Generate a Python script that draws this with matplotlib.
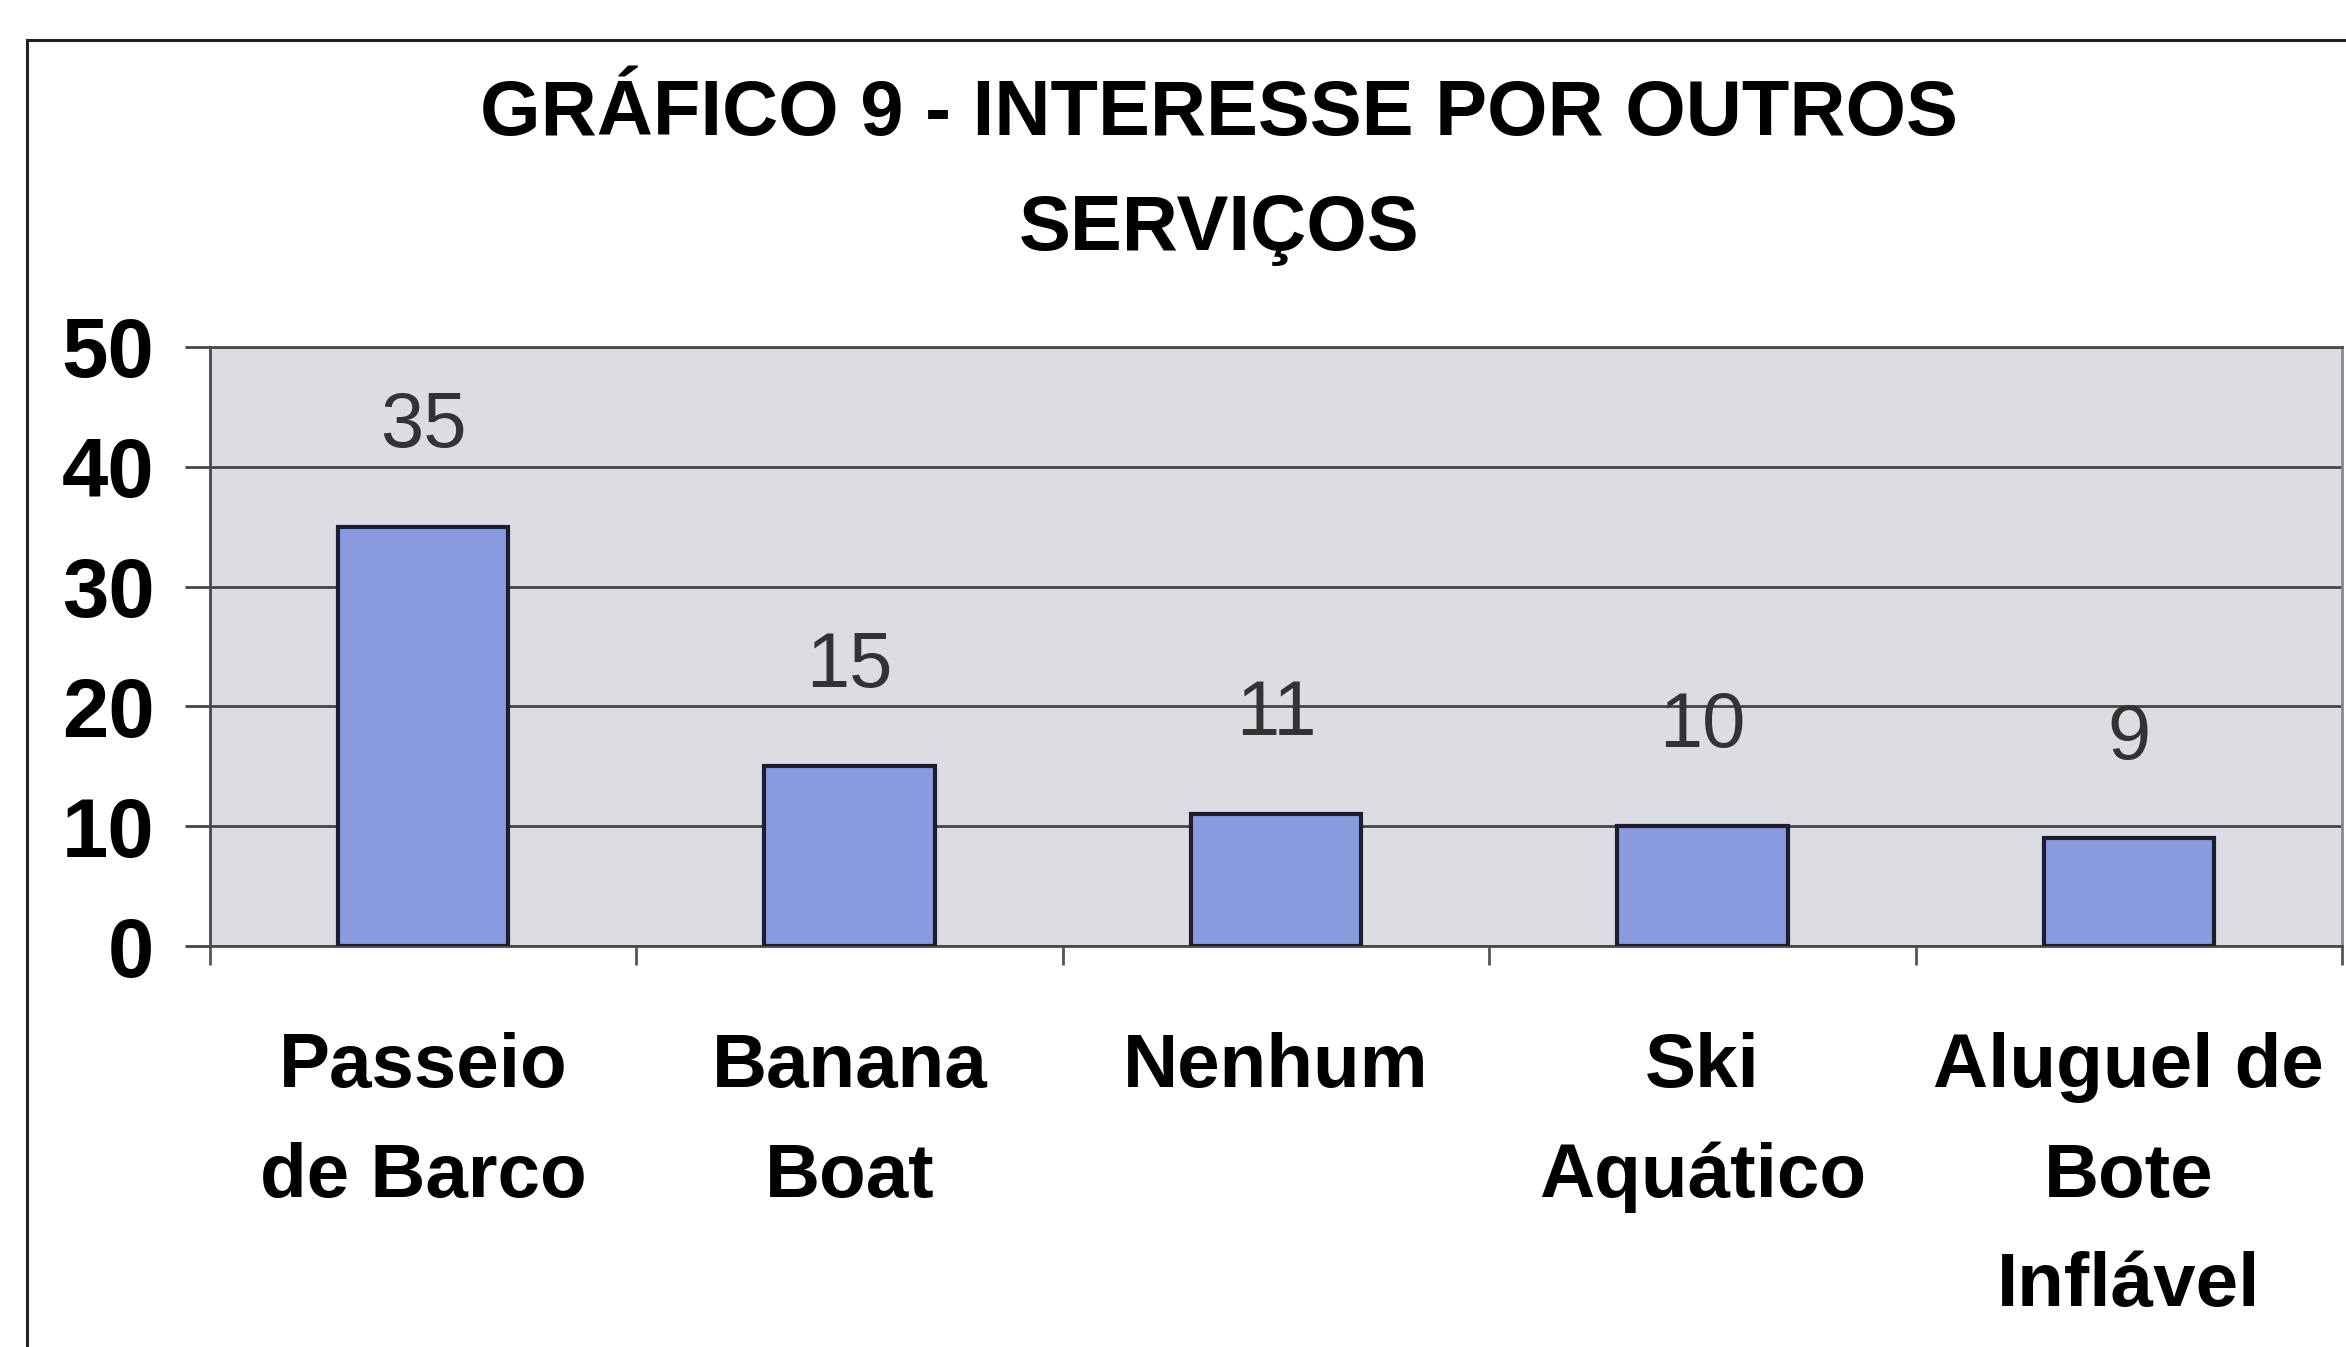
import matplotlib
matplotlib.use("Agg")
import matplotlib.pyplot as plt
from matplotlib.lines import Line2D

categories = ["Passeio\nde Barco", "Banana\nBoat", "Nenhum", "Ski\nAquático", "Aluguel de\nBote\nInflável"]
values = [35, 15, 11, 10, 9]
yticks = [0, 10, 20, 30, 40, 50]
title_lines = ["GRÁFICO 9 - INTERESSE POR OUTROS", "SERVIÇOS"]

W, H = 2346, 1347
FAM = ["Liberation Sans", "DejaVu Sans"]
fig = plt.figure(figsize=(W / 100, H / 100), dpi=100)
fig.patch.set_facecolor("white")

ax = fig.add_axes([210 / W, 1 - 946 / H, (2342 - 210) / W, (946 - 347) / H])
ax.set_facecolor("#dcdce3")
x = list(range(len(categories)))
ax.bar(x, values, width=0.4, color="#8a9ade", edgecolor="#1c1e30", linewidth=3, zorder=3)
ax.set_xlim(-0.5, len(categories) - 0.5)
ax.set_ylim(0, 50)

ax.set_yticks(yticks)
ax.set_yticklabels([str(t) for t in yticks], fontsize=60, fontweight="bold", family=FAM)
ax.yaxis.grid(True, color="#454545", linewidth=2, zorder=1)
ax.tick_params(axis="y", direction="out", length=18, width=2, color="#444444", pad=22)

ax.set_xticks(x)
ax.set_xticklabels(categories, fontsize=55, fontweight="bold", linespacing=1.7, family=FAM)
ax.set_xticks([i - 0.5 for i in range(len(categories) + 1)], minor=True)
ax.tick_params(axis="x", which="major", length=0, pad=62)
ax.tick_params(axis="x", which="minor", direction="out", length=14, width=2, color="#555555")

for s in ["left", "bottom", "top"]:
    ax.spines[s].set_color("#4a4a4a")
    ax.spines[s].set_linewidth(2)
ax.spines["right"].set_color("#888888")
ax.spines["right"].set_linewidth(2)

for xi, v in zip(x, values):
    ax.annotate(str(v), (xi, v), xytext=(0, 72), textcoords="offset points",
                ha="center", va="center", fontsize=56, color="#333333",
                family=FAM, zorder=4)

fig.text(1219 / W, 1 - 114 / H, title_lines[0], ha="center", va="center", fontsize=56,
         fontweight="bold", family=FAM)
fig.text(1219 / W, 1 - 230 / H, title_lines[1], ha="center", va="center", fontsize=56,
         fontweight="bold", family=FAM)

# outer chart frame
fig.add_artist(Line2D([27 / W, 27 / W], [0, 1 - 40 / H], transform=fig.transFigure,
                      color="#222222", linewidth=2.2))
fig.add_artist(Line2D([27 / W, 1], [1 - 40 / H, 1 - 40 / H], transform=fig.transFigure,
                      color="#222222", linewidth=2.2))

fig.savefig("out.png", dpi=100)
